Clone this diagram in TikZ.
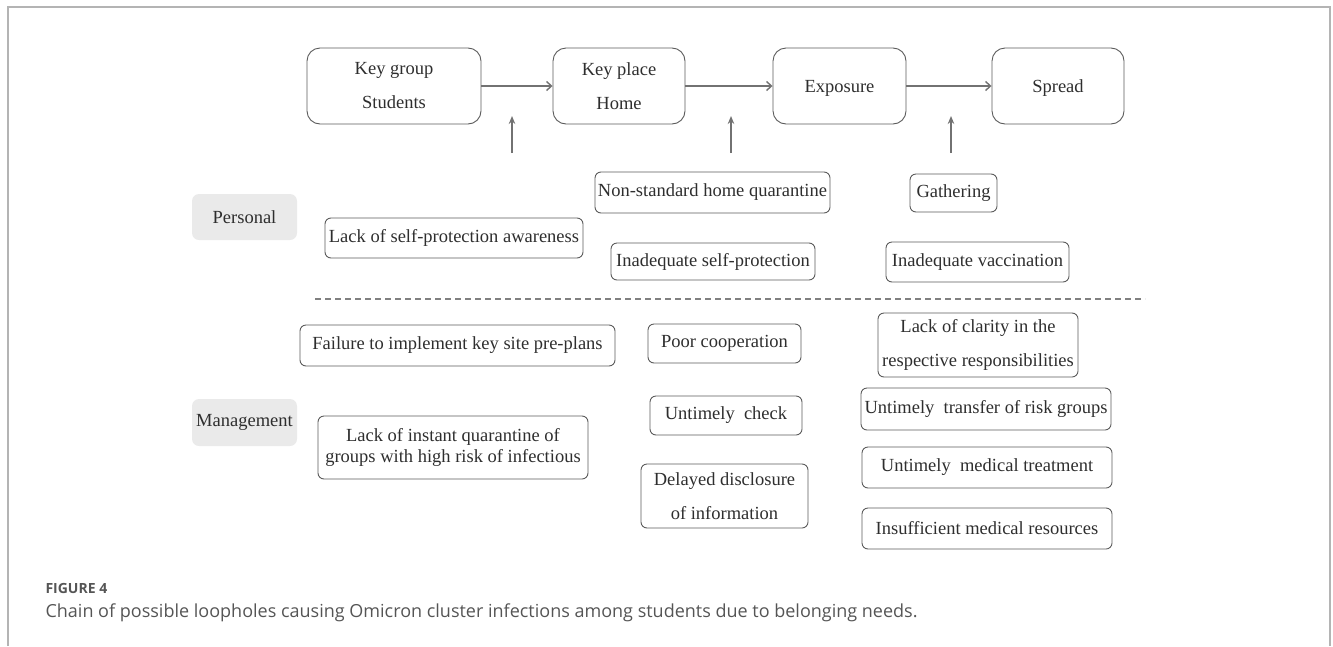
\documentclass[tikz,border=0pt]{standalone}
\usepackage{fontspec}
\setmainfont{Liberation Serif}
\newfontfamily\capfont{Open Sans}
\usepackage{xcolor}
\usetikzlibrary{arrows.meta}
\definecolor{boxline}{HTML}{5A5A5A}
\definecolor{arrowgray}{HTML}{727272}
\definecolor{labelgray}{HTML}{EAEAEA}
\definecolor{framegray}{HTML}{B4B4B4}
\definecolor{txtgray}{HTML}{2E2E2E}
\definecolor{capgray}{HTML}{555555}
\tikzset{
  loose/.style={font=\fontsize{18.5}{34}\selectfont},
  tight/.style={font=\fontsize{18.5}{21}\selectfont},
  bigbox/.style={loose, minimum height=76pt, rounded corners=13pt},
  labelbox/.style={draw=none, fill=labelgray, rounded corners=7pt, minimum width=105pt, minimum height=46pt},
  chain/.style={arrowgray, line width=1.4pt, -{Straight Barb[length=5pt,width=9pt,line width=1.4pt]}},
  cause/.style={arrowgray, line width=1.4pt, -{Stealth[length=8pt,width=6.5pt]}}
}
\begin{document}
\begin{tikzpicture}[x=1pt,y=-1pt]
	\useasboundingbox (0,0) rectangle (1333,646);
	\draw [framegray, line width=1.2pt] (8,646) -- (8,7) -- (1330,7) -- (1330,646);
	\tikzstyle{every node}=[tight, text=txtgray, draw=boxline, line width=0.9pt, rounded corners=6pt, inner sep=0pt, align=center]
	\draw (394,86) node[bigbox, minimum width=174pt] (kgroup) {Key group\\Students};
	\draw (619,86) node[bigbox, minimum width=132pt] (kplace) {Key place\\Home};
	\draw (839.5,86) node[bigbox, minimum width=133pt, text depth=0pt] (expo) {Exposure};
	\draw (1058,86) node[bigbox, minimum width=132pt, text depth=0pt] (spread) {Spread};
	\draw (244.5,217) node[labelbox] (personal) {Personal};
	\draw (244.5,422.5) node[labelbox, minimum height=47pt] (mgmt) {Management};
	\draw (454,238) node[minimum width=258pt, minimum height=40pt] (aware) {Lack of self-protection awareness};
	\draw (712.5,192.5) node[minimum width=235pt, minimum height=41pt] (homequar) {Non-standard home quarantine};
	\draw (713,261.5) node[minimum width=204pt, minimum height=37pt] (selfprot) {Inadequate self-protection};
	\draw (953.5,193) node[minimum width=87pt, minimum height=38pt] (gather) {Gathering};
	\draw (977.5,262) node[minimum width=183pt, minimum height=40pt] (vaccin) {Inadequate vaccination};
	\draw (457.5,345.5) node[minimum width=315pt, minimum height=41pt] (preplan) {Failure to implement key site pre-plans};
	\draw (453,447.5) node[minimum width=270pt, minimum height=63pt] (instquar) {Lack of instant quarantine of\\groups with high risk of infectious};
	\draw (724.5,343.5) node[minimum width=153pt, minimum height=39pt] (cooper) {Poor cooperation};
	\draw (726,415.5) node[minimum width=152pt, minimum height=39pt] (check) {Untimely~ check};
	\draw (724.5,496) node[loose, minimum width=167pt, minimum height=64pt] (disclose) {Delayed disclosure\\of information};
	\draw (978,345) node[loose, minimum width=200pt, minimum height=64pt] (clarity) {Lack of clarity in the\\respective responsibilities};
	\draw (986,409) node[minimum width=250pt, minimum height=42pt] (transfer) {Untimely~ transfer of risk groups};
	\draw (987,467.5) node[minimum width=250pt, minimum height=41pt] (treat) {Untimely~ medical treatment};
	\draw (987,528.5) node[minimum width=250pt, minimum height=41pt] (resource) {Insufficient medical resources};
	\tikzstyle{every node}=[fill=none, draw=none]
	\draw [chain] (kgroup) to (kplace);
	\draw [chain] (kplace) to (expo);
	\draw [chain] (expo) to (spread);
	\coordinate (up1s) at (512,153); \coordinate (up1e) at (512,116);
	\coordinate (up2s) at (731,153); \coordinate (up2e) at (731,116);
	\coordinate (up3s) at (951,153); \coordinate (up3e) at (951,116);
	\draw [cause] (up1s) to (up1e);
	\draw [cause] (up2s) to (up2e);
	\draw [cause] (up3s) to (up3e);
	\draw [gray, line width=1.2pt, dash pattern=on 6pt off 4pt] (315,299) -- (1145,299);
	\draw (42,588) node[anchor=west, text=capgray, font=\capfont\bfseries\fontsize{14}{16}\selectfont] (fignum) {FIGURE 4};
	\draw (42,613) node[anchor=west, text=capgray, font=\capfont\fontsize{18}{21}\selectfont] (caption) {Chain of possible loopholes causing Omicron cluster infections among students due to belonging needs.};
\end{tikzpicture}
\end{document}
